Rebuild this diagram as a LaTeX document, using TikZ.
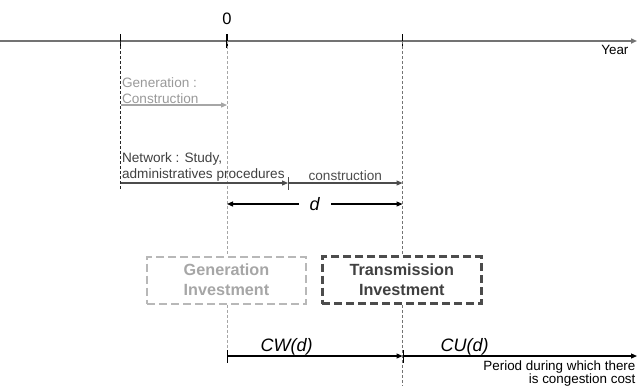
\documentclass[tikz,border=0pt]{standalone}
\usepackage{fontspec}
\setmainfont{Liberation Sans}
\usetikzlibrary{arrows.meta, positioning}

\begin{document}
\begin{tikzpicture}[x=1pt, y=-1pt, line width=1.2pt,
    tip/.style = {-{Triangle[length=6pt, width=5pt]}},
    bartip/.style = {{Bar[width=13pt]}-{Triangle[length=6pt, width=5pt]}},
    small/.style = {font=\fontsize{13.6}{16}\selectfont, inner sep=1pt, align=left},
    big/.style = {font=\itshape\fontsize{18}{20}\selectfont, inner sep=0.5pt},
    guide/.style = {line width=0.8pt, dash pattern=on 3pt off 2pt},
    invest/.style = {line width=2pt, dash pattern=on 8pt off 4pt, minimum width=159pt,
        minimum height=47pt, align=center, font=\bfseries\fontsize{16.2}{20}\selectfont}]
    \useasboundingbox (0,0) rectangle (642,386);

    % time axis
    \coordinate (a0) at (0,41);
    \coordinate (a1) at (637,41);
    \coordinate (s) at (120.5,41);
    \coordinate (z) at (227,41);
    \coordinate (e) at (402.5,41);
    \draw[tip, black!55, line width=1.5pt] (a0) -- (a1);
    \node[font=\fontsize{13.4}{16}\selectfont, inner sep=0pt, anchor=north east] (yr)
        at ([xshift=-8pt, yshift=-4pt]a1) {Year};
    \foreach \t in {s, z, e}
        \draw[line width=1.4pt] ([yshift=7pt]\t) -- ([yshift=-7pt]\t);
    \node[font=\fontsize{16.5}{18}\selectfont, inner sep=0pt, above=16pt of z] (zero) {0};

    % investment boxes
    \node[invest, draw=black!28, text=black!35] (gen) at (226.5,280) {Generation\\Investment};
    \node[invest, draw=black!70, text=black!75, line width=2.6pt, right=14pt of gen] (tr) {Transmission\\Investment};

    % durations
    \coordinate (g0) at (120.5,105);
    \coordinate (g1) at (227,105);
    \coordinate (n0) at (120.5,183);
    \coordinate (n1) at (288,183);
    \coordinate (n2) at (402.5,183);
    \coordinate (n3) at (120.5,190);
    \coordinate (d0) at (227,204);
    \coordinate (d1) at (402.5,204);
    \coordinate (c0) at (227,356);
    \coordinate (c1) at (402.5,356);
    \coordinate (c2) at (637,356);
    \coordinate (c3) at (227,362);
    \coordinate (c4) at (402.5,386);

    \draw[guide, black!85] (s) -- (n3);
    \draw[guide, black!35] (z) -- (z |- gen.north);
    \draw[guide, black!35] (z |- gen.south) -- (c3);
    \draw[guide, black!55] (e) -- (e |- tr.north);
    \draw[guide, black!55] (e |- tr.south) -- (c4);

    \draw[tip, black!35] (g0) -- (g1);
    \node[small, text=black!40, anchor=south west] (gl) at (g0) {Generation :\\Construction};
    \draw[tip, black!70] (n0) -- (n1);
    \draw[bartip, black!70] (n1) -- node[small, above, inner sep=2pt] (nc) {construction} (n2);
    \node[small, text=black!75, anchor=south west] (nl) at (n0) {Network : Study,\\administratives procedures};

    \draw[{Triangle[length=6pt, width=5pt]}-{Triangle[length=6pt, width=5pt]}] (d0) --
        node[big, fill=white, inner xsep=11pt] (dl) {d} (d1);

    \draw[bartip] (c0) -- node[big, above, pos=0.34] (cw) {CW(d)} (c1);
    \draw[bartip] (c1) -- node[big, above, pos=0.265] (cu) {CU(d)} (c2);
    \node[font=\fontsize{13.4}{12.2}\selectfont, inner sep=0pt, anchor=north east, align=right] (per)
        at ([xshift=-1pt, yshift=-4pt]c2) {Period during which there\\is congestion cost};
\end{tikzpicture}
\end{document}
